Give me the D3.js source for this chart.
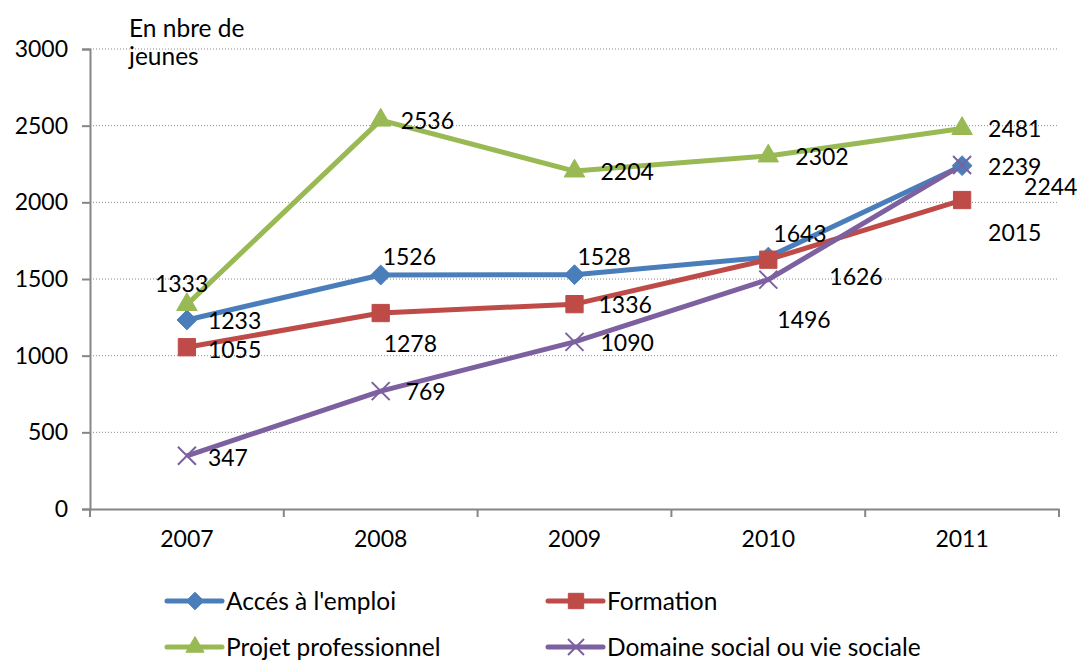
<!DOCTYPE html>
<html>
<head>
<meta charset="utf-8">
<script src="https://cdn.jsdelivr.net/npm/d3@7"></script>
<style>
  body { margin: 0; background: #fff; }
  svg text { font-family: Lato, "Noto Sans", sans-serif; fill: #000; }
</style>
</head>
<body>
<svg id="chart"></svg>
<script>
// data
const years = ['2007', '2008', '2009', '2010', '2011'];
const seriesNames = ["Accés à l'emploi", 'Formation', 'Projet professionnel', 'Domaine social ou vie sociale'];
const emploi = [1233, 1526, 1528, 1643, 2239];
const formation = [1055, 1278, 1336, 1626, 2015];
const projet = [1333, 2536, 2204, 2302, 2481];
const social = [347, 769, 1090, 1496, 2244];
const yTicks = [0, 500, 1000, 1500, 2000, 2500, 3000];

const colours = ['#4A7EBB', '#BE4B48', '#98B954', '#7D60A0'];
const markers = ['diamond', 'square', 'triangle', 'cross'];

// label offsets (dx from point to text start, dy to text middle), per series / year
const labelOffsets = [
	[[21, 1], [2, -18], [3, -18], [5, -23], [26, 1]],
	[[21, 3], [3, 31], [24, 1], [61, 17], [26, 33]],
	[[-32, -21], [20, 1], [26, 1], [27, 1], [26, 0]],
	[[21, 2], [25, 1], [26, 1], [9, 40], [62, 22]]
];

const numSize = 23, textSize = 24.5;
const width = 1080, height = 660;
const margin = { top: 49, right: 21, bottom: 151, left: 90 };
const innerW = width - margin.left - margin.right;
const innerH = height - margin.top - margin.bottom;

const svg = d3.select('#chart').attr('width', width).attr('height', height);
const g = svg.append('g').attr('transform', `translate(${margin.left},${margin.top})`);

const x = d3.scaleBand().domain(years).range([0, innerW]).padding(0);
const y = d3.scaleLinear().domain([0, 3000]).range([innerH, 0]);
const cx = d => x(d) + x.bandwidth() / 2;

// gridlines
g.selectAll('.grid')
	.data(yTicks.filter(d => d > 0))
	.join('line')
	.attr('x1', 0).attr('x2', innerW)
	.attr('y1', d => y(d)).attr('y2', d => y(d))
	.attr('stroke', '#8c8c8c')
	.attr('stroke-width', 1)
	.attr('stroke-dasharray', '1,2');

// y axis
const yAxisG = g.append('g')
	.call(d3.axisLeft(y).tickValues(yTicks).tickSize(8).tickPadding(14).tickFormat(d3.format('d')));
yAxisG.select('.domain').attr('stroke', '#868686').attr('stroke-width', 2);
yAxisG.selectAll('.tick line').attr('stroke', '#868686').attr('stroke-width', 2);
yAxisG.selectAll('.tick text').attr('font-size', numSize).style('font-family', 'Lato, sans-serif');

// x axis
const xAxisG = g.append('g')
	.attr('transform', `translate(0,${innerH})`)
	.call(d3.axisBottom(x).tickSize(0).tickPadding(22));
xAxisG.select('.domain').attr('stroke', '#868686').attr('stroke-width', 2);
xAxisG.selectAll('.tick text').attr('font-size', numSize).style('font-family', 'Lato, sans-serif');
// category boundary ticks
g.selectAll('.xtick')
	.data(years.map(d => x(d)).concat([innerW]))
	.join('line')
	.attr('x1', d => d).attr('x2', d => d)
	.attr('y1', innerH).attr('y2', innerH + 8)
	.attr('stroke', '#868686').attr('stroke-width', 2);

// axis title
const title = svg.append('text').attr('x', 129).attr('y', 37).attr('font-size', textSize);
title.append('tspan').attr('x', 129).text('En nbre de');
title.append('tspan').attr('x', 129).attr('dy', 28).text('jeunes');

function drawMarker(sel, type, colour, size) {
	if (type === 'cross') {
		const s = size / 2;
		sel.append('path')
			.attr('d', `M${-s},${-s}L${s},${s}M${-s},${s}L${s},${-s}`)
			.attr('stroke', colour).attr('stroke-width', 2).attr('fill', 'none');
	} else {
		const sym = { diamond: d3.symbolDiamond2, square: d3.symbolSquare2, triangle: d3.symbolTriangle2 }[type];
		const area = { diamond: 250, square: 380, triangle: 300 }[type] * size * size / 324;
		sel.append('path')
			.attr('d', d3.symbol(sym, area)())
			.attr('fill', colour).attr('stroke', colour).attr('stroke-width', 1);
	}
}

const allSeries = [emploi, formation, projet, social];
const line = d3.line().x((d, i) => cx(years[i])).y(d => y(d));

allSeries.forEach((vals, si) => {
	g.append('path')
		.datum(vals)
		.attr('d', line)
		.attr('fill', 'none')
		.attr('stroke', colours[si])
		.attr('stroke-width', 5)
		.attr('stroke-linejoin', 'round');
});

allSeries.forEach((vals, si) => {
	vals.forEach((v, i) => {
		const mg = g.append('g').attr('transform', `translate(${cx(years[i])},${y(v)})`);
		drawMarker(mg, markers[si], colours[si], 18);
	});
});

// data labels
allSeries.forEach((vals, si) => {
	vals.forEach((v, i) => {
		const off = labelOffsets[si][i];
		g.append('text')
			.attr('x', cx(years[i]) + off[0])
			.attr('y', y(v) + off[1])
			.attr('dy', '0.35em')
			.attr('font-size', numSize)
			.text(v);
	});
});

// legend
const legendPos = [[167, 601], [548, 601], [167, 647], [548, 647]];
seriesNames.forEach((name, si) => {
	const lg = svg.append('g').attr('transform', `translate(${legendPos[si][0]},${legendPos[si][1]})`);
	lg.append('line').attr('x1', 0).attr('x2', 55).attr('y1', 0).attr('y2', 0)
		.attr('stroke', colours[si]).attr('stroke-width', 5).attr('stroke-linecap', 'round');
	const mg = lg.append('g').attr('transform', 'translate(28,0)');
	drawMarker(mg, markers[si], colours[si], 16);
	lg.append('text').attr('x', 59).attr('y', 0).attr('dy', '0.35em').attr('font-size', textSize).text(name);
});
</script>
</body>
</html>
